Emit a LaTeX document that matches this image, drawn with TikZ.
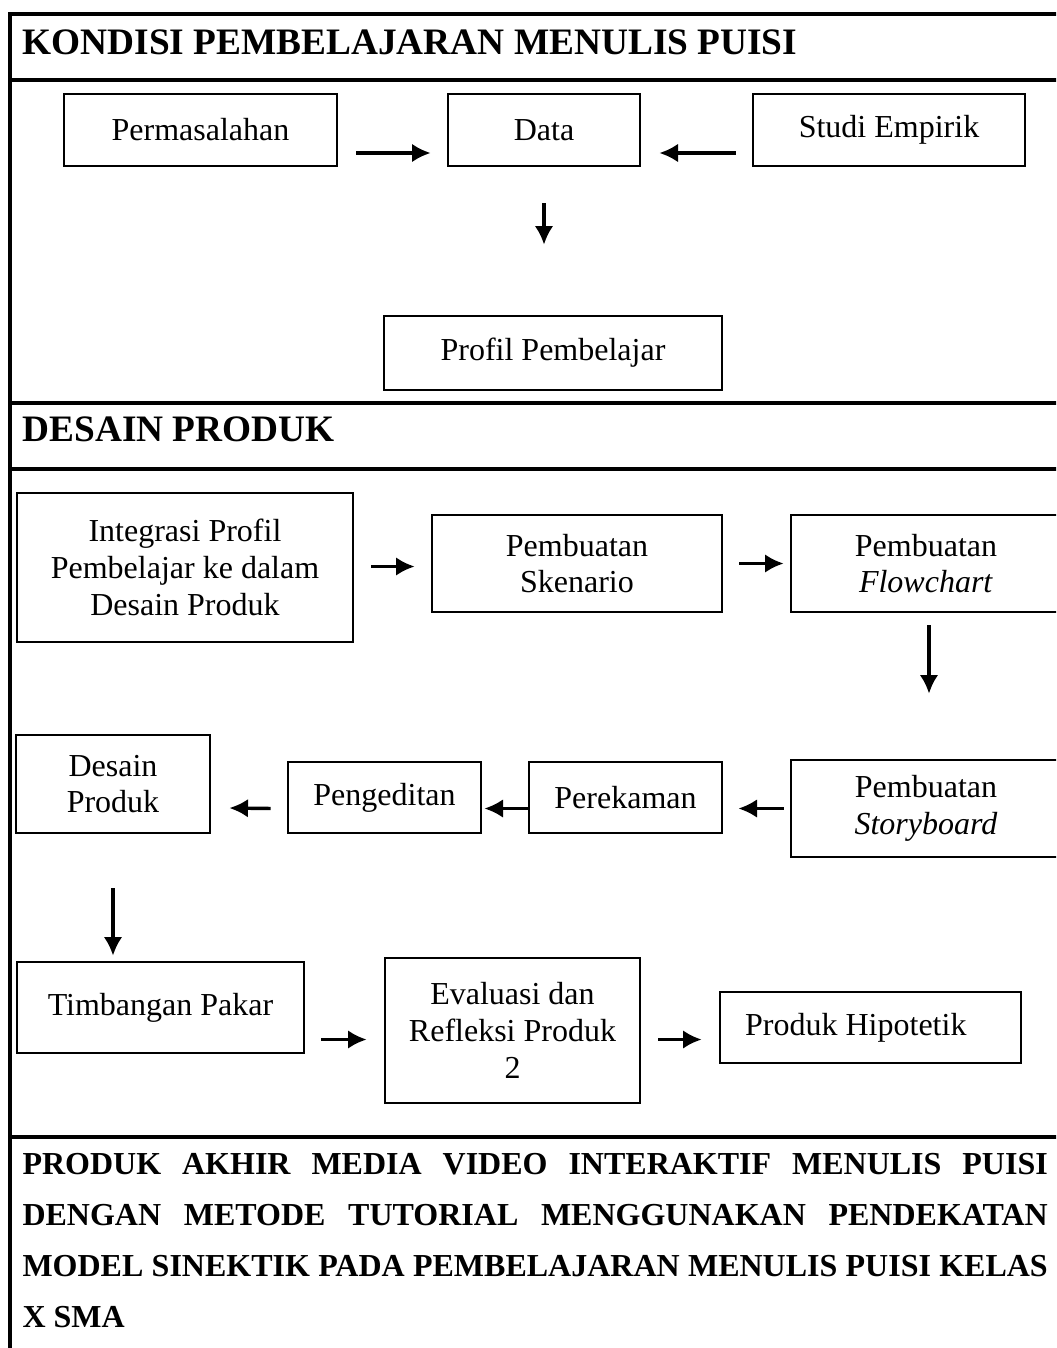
\documentclass[tikz,border=0pt]{standalone}
\usepackage{fontspec}
\setmainfont{Liberation Serif}
\usetikzlibrary{arrows.meta,calc}

\begin{document}
\begin{tikzpicture}[x=0.375pt, y=-0.375pt, >={Latex[length=7pt,width=7pt]},
        sz/.style 2 args={minimum width=#1*0.375pt, minimum height=#2*0.375pt}]
        \tikzstyle{tableRule} = [black, line width=1.3pt];
        \tikzstyle{state} = [draw, line width=1pt, fill=white, rectangle,
            inner sep=0pt, align=center, font=\fontsize{12}{13.8}\selectfont];
        \tikzstyle{header} = [anchor=base west, inner sep=0pt,
            font=\bfseries\fontsize{14}{16}\selectfont];
        \tikzstyle{closing} = [anchor=base west, inner sep=0pt,
            font=\bfseries\fontsize{12}{14}\selectfont];
        \tikzstyle{stateEdge} = [black, line width=1.3pt, ->];

        \useasboundingbox (0,0) rectangle (1056,1348);
        \clip (0,0) rectangle (1056,1348);

        % table rules
        \draw[tableRule] (10,1370) -- (10,14) -- (1070,14);
        \draw[tableRule] (10,80) -- (1070,80);
        \draw[tableRule] (10,403) -- (1070,403);
        \draw[tableRule] (10,469) -- (1070,469);
        \draw[tableRule] (10,1137) -- (1070,1137);

        \node[header] (headKondisi) at (22,55) {KONDISI PEMBELAJARAN MENULIS PUISI};
        \node[header] (headDesain) at (22,441) {DESAIN PRODUK};

        % kondisi
        \node[state, sz={273}{72}] (nodePerm) at (200.5,130) {Permasalahan};
        \node[state, sz={192}{72}] (nodeData) at (544,130) {Data};
        \node[state, sz={272}{72}] (nodeStudi) at (889,130) {Studi Empirik};
        \node[state, sz={338}{74}] (nodeProfil) at (553,353) {Profil Pembelajar};

        % desain
        \node[state, sz={336}{149}] (nodeIntegrasi) at (185,567.5)
            {Integrasi Profil\\Pembelajar ke dalam\\Desain Produk};
        \node[state, sz={290}{97}] (nodeSkenario) at (577,563.5) {Pembuatan\\Skenario};
        \node[state, sz={270}{97}] (nodeFlow) at (926,563.5) {Pembuatan\\\textit{Flowchart}};
        \node[state, sz={270}{97}] (nodeStory) at (926,808.5) {Pembuatan\\\textit{Storyboard}};
        \node[state, sz={193}{71}] (nodeRekam) at (625.5,797.5) {Perekaman};
        \node[state, sz={193}{71}] (nodeEdit) at (384.5,797.5) {Pengeditan};
        \node[state, sz={194}{98}] (nodeDesain) at (113,784) {Desain\\Produk};
        \node[state, sz={287}{91}] (nodeTimbang) at (160.5,1007.5) {Timbangan Pakar};
        \node[state, sz={255}{145}] (nodeEval) at (512.5,1030.5)
            {Evaluasi dan\\Refleksi Produk\\2};
        \node[state, sz={301}{71}] (nodeHipo) at (870.5,1027.5)
            {Produk Hipotetik\hspace*{11pt}};

        % closing row
        \node[closing] (closeA) at (22,1174)
            {\makebox[384.5pt][s]{PRODUK AKHIR MEDIA VIDEO INTERAKTIF MENULIS PUISI}};
        \node[closing] (closeB) at (22,1225)
            {\makebox[384.5pt][s]{DENGAN METODE TUTORIAL MENGGUNAKAN PENDEKATAN}};
        \node[closing] (closeC) at (22,1276)
            {\makebox[384.5pt][s]{MODEL SINEKTIK PADA PEMBELAJARAN MENULIS PUISI KELAS}};
        \node[closing] (closeD) at (22,1327) {X SMA};

        \draw ($(nodePerm.east)+(18,23)$)
        edge[stateEdge] ($(nodeData.west)+(-16,23)$);
        \draw ($(nodeStudi.west)+(-16,23)$)
        edge[stateEdge] ($(nodeData.east)+(18,23)$);
        \draw ($(nodeData.south)+(0,36)$)
        edge[stateEdge] ($(nodeData.south |- nodeProfil.north)+(0,-70)$);

        \draw ($(nodeIntegrasi.east)+(17,-1)$)
        edge[stateEdge] ($(nodeSkenario.west)+(-16,3)$);
        \draw ($(nodeSkenario.east)+(16,0)$)
        edge[stateEdge] ($(nodeFlow.west)+(-6,0)$);
        \draw ($(nodeFlow.south)+(3,12)$)
        edge[stateEdge] ($(nodeStory.north)+(3,-65)$);
        \draw ($(nodeStory.west)+(-6,0)$)
        edge[stateEdge] ($(nodeRekam.east)+(15,11)$);
        \draw ($(nodeRekam.west)+(0,11)$)
        edge[stateEdge] ($(nodeEdit.east)+(2,11)$);
        \draw ($(nodeEdit.west)+(-16,11)$)
        edge[stateEdge] ($(nodeDesain.east)+(18,24)$);
        \draw ($(nodeDesain.south)+(0,54)$)
        edge[stateEdge] ($(nodeTimbang.north -| nodeDesain.south)+(0,-5)$);

        \draw ($(nodeTimbang.east)+(16,32)$)
        edge[stateEdge] ($(nodeEval.west)+(-17,9)$);
        \draw ($(nodeEval.east)+(17,9)$)
        edge[stateEdge] ($(nodeHipo.west)+(-17,12)$);
    \end{tikzpicture}
\end{document}
